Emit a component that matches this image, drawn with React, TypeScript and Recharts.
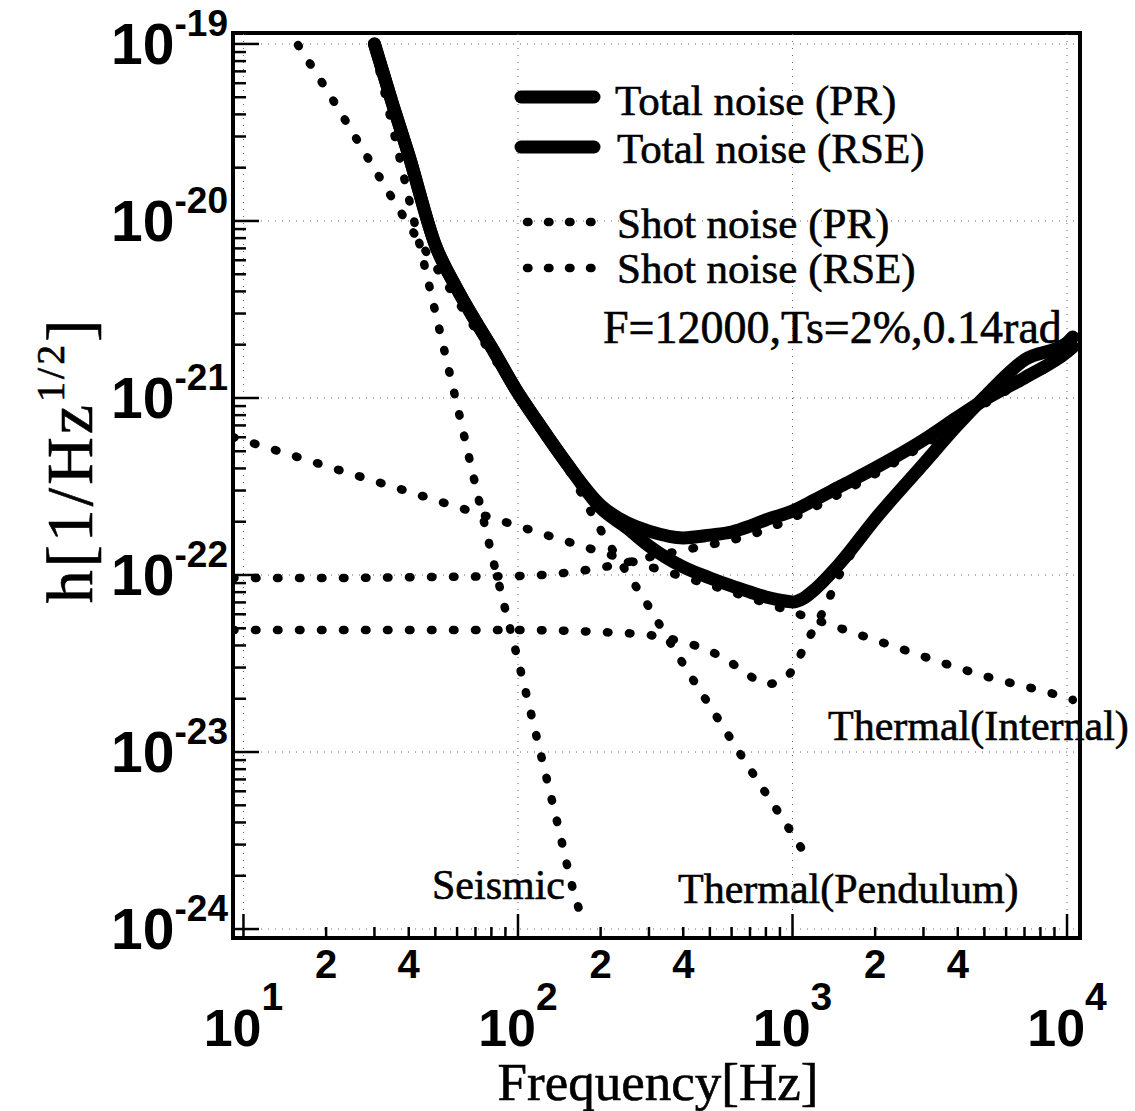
import React from "react";
import {
  Legend,
  Line,
  LineChart,
  ReferenceArea,
  ReferenceLine,
  XAxis,
  YAxis,
} from "recharts";

const SERIF = '"Liberation Serif", "Times New Roman", serif';
const SANS = '"Liberation Sans", Arial, Helvetica, sans-serif';

// axis ranges
const xMin = 9.16;
const xMax = 11150;
const yMin = 8.9e-25;
const yMax = 1.153e-19;

// x ticks
const xDecades = [10, 100, 1000, 10000];
const xDecadeExponents = ["1", "2", "3", "4"];
const xLabeledMinor = [20, 40, 200, 400, 2000, 4000];
const xLabeledMinorText = ["2", "4", "2", "4", "2", "4"];
const xPlainMinor = [
  30, 50, 60, 70, 80, 90, 300, 500, 600, 700, 800, 900, 3000, 5000, 6000, 7000,
  8000, 9000,
];

// y ticks
const yDecades = [1e-24, 1e-23, 1e-22, 1e-21, 1e-20, 1e-19];
const yDecadeExponents = ["-24", "-23", "-22", "-21", "-20", "-19"];
const yMinorSteps = [2, 3, 4, 5, 6, 7, 8, 9];

// Total noise (PR)
const totalPrFreq = [
  30, 35, 40, 50, 60, 70, 80, 100, 120, 150, 200, 250, 300, 400, 500, 600, 700,
  800, 1000, 1200, 1500, 2000, 3000, 4000, 5000, 7000, 10000, 10500,
];
const totalPrH = [
  1.0e-19, 4.52e-20, 2.36e-20, 7.31e-21, 4.13e-21, 2.72e-21, 1.94e-21, 1.07e-21,
  7.04e-22, 4.3e-22, 2.48e-22, 1.97e-22, 1.77e-22, 1.62e-22, 1.68e-22, 1.75e-22,
  1.89e-22, 2.05e-22, 2.3e-22, 2.65e-22, 3.18e-22, 4.02e-22, 5.79e-22, 7.81e-22,
  9.75e-22, 1.3e-21, 1.82e-21, 1.94e-21,
];

// Total noise (RSE)
const totalRseFreq = [
  30, 35, 40, 50, 60, 70, 80, 100, 120, 150, 200, 250, 300, 400, 500, 600, 700,
  800, 900, 1000, 1100, 1200, 1500, 2000, 3000, 4000, 5000, 7000, 10000, 10500,
];
const totalRseH = [
  1.0e-19, 4.52e-20, 2.36e-20, 7.31e-21, 4.13e-21, 2.72e-21, 1.94e-21, 1.07e-21,
  7.04e-22, 4.3e-22, 2.39e-22, 1.84e-22, 1.46e-22, 1.11e-22, 9.62e-23, 8.67e-23,
  8.02e-23, 7.51e-23, 7.22e-23, 7.04e-23, 7.41e-23, 8.23e-23, 1.18e-22,
  2.07e-22, 4.24e-22, 7.04e-22, 1.01e-21, 1.64e-21, 2.05e-21, 2.21e-21,
];

// Shot noise (PR)
const shotPrFreq = [
  9.16, 20, 50, 100, 150, 200, 250, 300, 400, 500, 700, 1000, 1500, 2000, 3000,
  5000, 7000, 10000, 10500,
];
const shotPrH = [
  9.62e-23, 9.62e-23, 9.75e-23, 9.87e-23, 1.03e-22, 1.1e-22, 1.18e-22, 1.26e-22,
  1.38e-22, 1.48e-22, 1.68e-22, 2.1e-22, 2.9e-22, 3.72e-22, 5.42e-22, 9.25e-22,
  1.26e-21, 1.77e-21, 1.89e-21,
];

// Shot noise (RSE)
const shotRseFreq = [
  9.16, 100, 200, 300, 400, 500, 600, 700, 800, 900, 1000, 1100, 1200, 1300,
  1500, 2000, 3000, 4000, 5000, 7000, 10000, 10500,
];
const shotRseH = [
  4.89e-23, 4.89e-23, 4.76e-23, 4.58e-23, 4.18e-23, 3.72e-23, 3.18e-23,
  2.69e-23, 2.42e-23, 2.49e-23, 2.91e-23, 3.87e-23, 5.02e-23, 6.34e-23,
  1.04e-22, 1.99e-22, 4.13e-22, 6.86e-22, 9.87e-22, 1.6e-21, 1.99e-21, 2.15e-21,
];

// Thermal (internal)
const internalFreq = [9.16, 20, 50, 100, 200, 500, 1000, 2000, 5000, 10000, 10500];
const internalH = [
  6.02e-22, 4.13e-22, 2.65e-22, 1.89e-22, 1.35e-22, 8.78e-23, 6.18e-23,
  4.29e-23, 2.69e-23, 2.02e-23, 1.97e-23,
];

// Thermal (pendulum)
const pendulumFreq = [15.8, 20, 30, 40, 50, 70, 100, 150, 200, 300, 400, 500, 700, 1000, 1100];
const pendulumH = [
  9.87e-20, 5.57e-20, 1.97e-20, 9.49e-21, 5.57e-21, 2.45e-21, 1.04e-21,
  4.13e-22, 1.8e-22, 6.59e-23, 3.14e-23, 1.82e-23, 8.02e-24, 3.44e-24, 2.72e-24,
];

// Seismic
const seismicFreq = [30, 35, 40, 45, 50, 60, 70, 80, 90, 100, 120, 140, 160, 168];
const seismicH = [
  9.25e-20, 3.35e-20, 1.35e-20, 6.18e-21, 3.06e-21, 9.13e-22, 3.22e-22,
  1.33e-22, 6.34e-23, 3.31e-23, 1.03e-23, 3.82e-24, 1.6e-24, 1.25e-24,
];

const legendLabels = [
  "Total noise (PR)",
  "Total noise (RSE)",
  "Shot noise (PR)",
  "Shot noise (RSE)",
];
const noteText = "F=12000,Ts=2%,0.14rad";
const curveLabels = ["Thermal(Internal)", "Thermal(Pendulum)", "Seismic"];

const toPoints = (fs: number[], hs: number[]) =>
  fs.map((f, i) => ({ f, h: hs[i] }));

const dottedSeries = [
  { key: "internal", data: toPoints(internalFreq, internalH) },
  { key: "pendulum", data: toPoints(pendulumFreq, pendulumH) },
  { key: "seismic", data: toPoints(seismicFreq, seismicH) },
  { key: "shotPr", data: toPoints(shotPrFreq, shotPrH) },
  { key: "shotRse", data: toPoints(shotRseFreq, shotRseH) },
];
const solidSeries = [
  { key: "totalPr", data: toPoints(totalPrFreq, totalPrH) },
  { key: "totalRse", data: toPoints(totalRseFreq, totalRseH) },
];

const xTicks = [...xDecades, ...xLabeledMinor, ...xPlainMinor].sort((a, b) => a - b);
const yTicks: number[] = [];
yDecades.forEach((d, i) => {
  yTicks.push(d);
  if (i < yDecades.length - 1) yMinorSteps.forEach((m) => yTicks.push(m * d));
});

const DOTS = { strokeWidth: 8.5, strokeDasharray: "1.5 20.5", strokeLinecap: "round" as const };

function XTick(props: any) {
  const { x, y, payload } = props;
  const v = payload.value;
  const di = xDecades.indexOf(v);
  const mi = xLabeledMinor.indexOf(v);
  return (
    <g>
      <line x1={x} x2={x} y1={y} y2={y - (di >= 0 ? 24 : 11)} stroke="#000" strokeWidth={2.5} />
      {di >= 0 && (
        <text x={x} y={y + 108} textAnchor="middle" fontFamily={SANS} fontWeight="bold" fontSize={52} fill="#000">
          10
          <tspan dy={-36} fontSize={39}>
            {xDecadeExponents[di]}
          </tspan>
        </text>
      )}
      {mi >= 0 && (
        <text x={x} y={y + 40} textAnchor="middle" fontFamily={SANS} fontWeight="bold" fontSize={40} fill="#000">
          {xLabeledMinorText[mi]}
        </text>
      )}
    </g>
  );
}

function YTick(props: any) {
  const { x, y, payload } = props;
  const v = payload.value;
  const di = yDecades.findIndex((d) => Math.abs(v - d) < d * 1e-6);
  return (
    <g>
      <line x1={x} x2={x + (di >= 0 ? 26 : 13)} y1={y} y2={y} stroke="#000" strokeWidth={2.5} />
      {di >= 0 && (
        <text x={x - 5} y={y + 20} textAnchor="end" fontFamily={SANS} fontWeight="bold" fontSize={57} fill="#000">
          10
          <tspan dy={-28} fontSize={37}>
            {yDecadeExponents[di]}
          </tspan>
        </text>
      )}
    </g>
  );
}

function Overlay() {
  const txt = { fontFamily: SERIF, fill: "#000", stroke: "#000", strokeWidth: 0.6 };
  return (
    <svg width={1135} height={1111} style={{ position: "absolute", left: 0, top: 0, overflow: "visible" }}>
      <line x1={521} x2={594} y1={97} y2={97} stroke="#000" strokeWidth={13} strokeLinecap="round" />
      <line x1={521} x2={594} y1={147} y2={147} stroke="#000" strokeWidth={13} strokeLinecap="round" />
      <line x1={527} x2={592} y1={222} y2={222} stroke="#000" {...DOTS} strokeDasharray="1.5 19.5" />
      <line x1={527} x2={592} y1={268} y2={268} stroke="#000" {...DOTS} strokeDasharray="1.5 19.5" />
      <text x={615} y={115} fontSize={43} {...txt}>{legendLabels[0]}</text>
      <text x={617} y={163} fontSize={43} {...txt}>{legendLabels[1]}</text>
      <text x={617} y={238} fontSize={43} {...txt}>{legendLabels[2]}</text>
      <text x={617} y={283} fontSize={43} {...txt}>{legendLabels[3]}</text>
      <text x={603} y={343} fontSize={46} {...txt}>{noteText}</text>

      <text x={828} y={740} fontSize={42} {...txt}>{curveLabels[0]}</text>
      <text x={678} y={903} fontSize={42} {...txt}>{curveLabels[1]}</text>
      <text x={432} y={899} fontSize={42} {...txt}>{curveLabels[2]}</text>

      <text x={658} y={1100} textAnchor="middle" fontSize={53} {...txt}>
        Frequency[Hz]
      </text>
      <text transform="rotate(-90)" x={-460} y={92} textAnchor="middle" fontSize={66} letterSpacing={3} {...txt}>
        h[1/Hz
        <tspan dy={-28} fontSize={40}>1/2</tspan>
        <tspan dy={28}>]</tspan>
      </text>
    </svg>
  );
}

export default function App() {
  return (
    <div style={{ position: "absolute", left: 0, top: 0, width: 1135, height: 1111, background: "#fff" }}>
      <LineChart width={1135} height={1111} margin={{ top: 33, right: 55, bottom: 0, left: 0 }}>
        <XAxis
          dataKey="f"
          type="number"
          scale="log"
          domain={[xMin, xMax]}
          allowDataOverflow
          ticks={xTicks}
          interval={0}
          tick={(p: any) => <XTick {...p} />}
          tickLine={false}
          tickSize={0}
          tickMargin={0}
          axisLine={{ stroke: "#000", strokeWidth: 4 }}
          height={173}
        />
        <YAxis
          dataKey="h"
          type="number"
          scale="log"
          domain={[yMin, yMax]}
          allowDataOverflow
          ticks={yTicks}
          interval={0}
          tick={(p: any) => <YTick {...p} />}
          tickLine={false}
          tickSize={0}
          tickMargin={0}
          axisLine={{ stroke: "#000", strokeWidth: 4 }}
          width={233}
        />
        {xDecades.map((d) => (
          <ReferenceLine key={"gx" + d} x={d} stroke="#666" strokeWidth={1} strokeDasharray="1 6" />
        ))}
        {yDecades.map((d) => (
          <ReferenceLine key={"gy" + d} y={d} stroke="#666" strokeWidth={1} strokeDasharray="1 6" />
        ))}
        {dottedSeries.map((s) => (
          <Line
            key={s.key}
            data={s.data}
            dataKey="h"
            type="monotone"
            stroke="#000"
            {...DOTS}
            dot={false}
            activeDot={false}
            isAnimationActive={false}
          />
        ))}
        {solidSeries.map((s) => (
          <Line
            key={s.key}
            data={s.data}
            dataKey="h"
            type="monotone"
            stroke="#000"
            strokeWidth={13}
            strokeLinecap="round"
            strokeLinejoin="round"
            dot={false}
            activeDot={false}
            isAnimationActive={false}
          />
        ))}
        <ReferenceArea x1={xMin} x2={xMax} y1={yMin} y2={yMax} fill="none" stroke="#000" strokeWidth={4} ifOverflow="visible" />
        <Legend
          layout="vertical"
          align="center"
          verticalAlign="middle"
          wrapperStyle={{ left: 0, top: 0, width: 1135, height: 1111, pointerEvents: "none" }}
          content={() => <Overlay />}
        />
      </LineChart>
    </div>
  );
}
